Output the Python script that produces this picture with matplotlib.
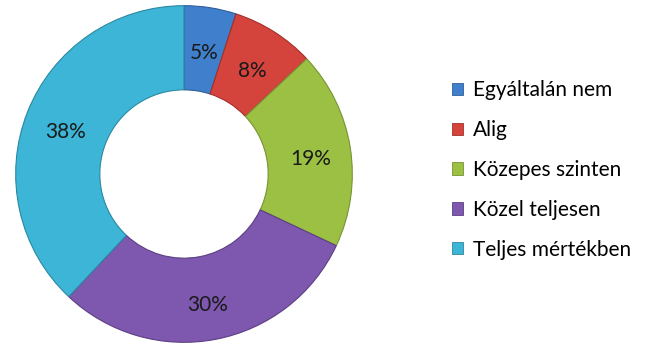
import matplotlib
matplotlib.use("Agg")
import matplotlib.pyplot as plt
from matplotlib.patches import Patch

categories = ["Egyáltalán nem", "Alig", "Közepes szinten", "Közel teljesen", "Teljes mértékben"]
shares = [5, 8, 19, 30, 38]
colors = ["#3F7FCC", "#D5433D", "#9CC044", "#7D58AE", "#3CB5D6"]
edges = ["#2E5F9A", "#A3302B", "#779433", "#5C3F83", "#2B88A2"]

plt.rcParams["font.family"] = ["Lato", "DejaVu Sans"]

fig = plt.figure(figsize=(6.45, 3.43), dpi=100)
# donut centre ~ (184, 174) px, radius ~170 px
ax = fig.add_axes([14 / 645, -1 / 343, 340 / 645, 340 / 343])

wedges, texts, autotexts = ax.pie(
    shares,
    colors=colors,
    startangle=90,
    counterclock=False,
    radius=1.0,
    wedgeprops=dict(width=0.5, linewidth=0.8),
    autopct=lambda p: f"{p:.0f}%",
    pctdistance=0.76,
    textprops=dict(fontsize=15, color="#1a1a1a"),
)
for w, ec in zip(wedges, edges):
    w.set_edgecolor(ec)
for t in autotexts:
    t.set_y(t.get_position()[1] - 0.03)
ax.set_xlim(-1.01, 1.01)
ax.set_ylim(-1.01, 1.01)
ax.set_aspect("equal")

handles = [Patch(facecolor=c, edgecolor=e, linewidth=0.6) for c, e in zip(colors, edges)]
fig.legend(
    handles,
    categories,
    loc="center left",
    bbox_to_anchor=(433 / 645, 1 - 170 / 343),
    frameon=False,
    fontsize=15,
    handlelength=0.53,
    handleheight=0.53,
    handletextpad=0.48,
    labelspacing=0.95,
)

fig.savefig("out.png", dpi=100)
